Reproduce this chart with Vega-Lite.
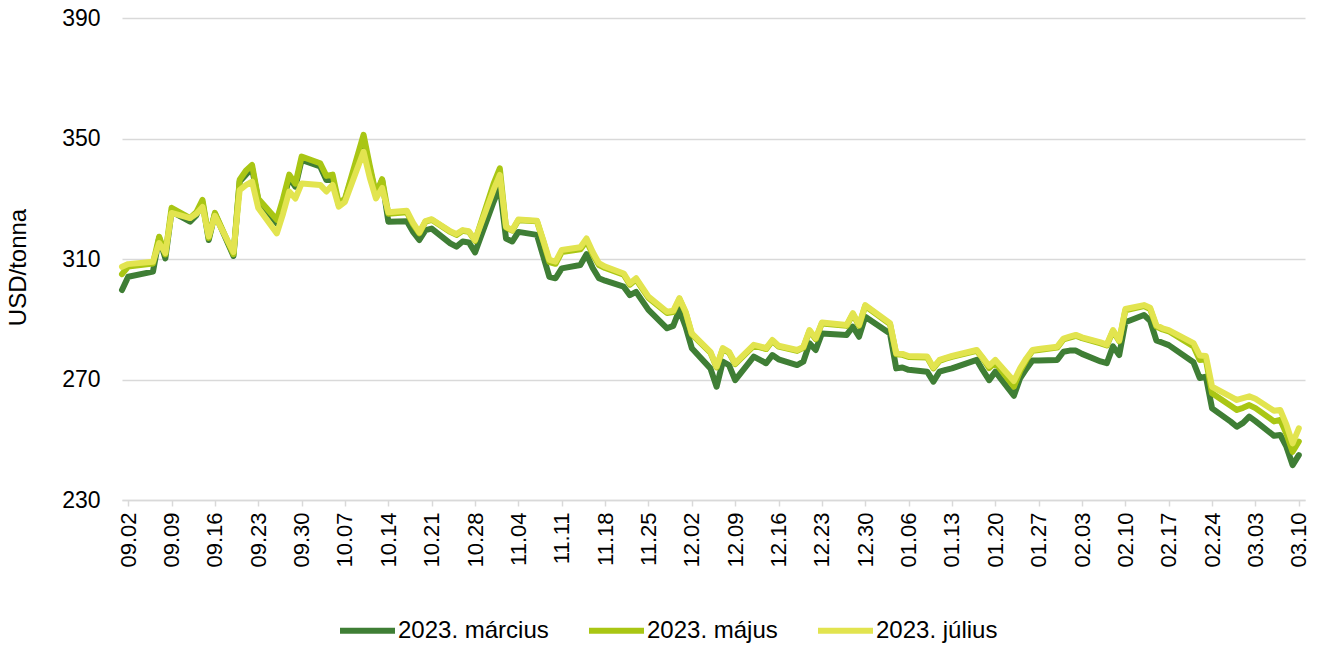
{
  "$schema": "https://vega.github.io/schema/vega-lite/v6.json",
  "width": 1183,
  "height": 482,
  "autosize": {"type": "none"},
  "padding": {"left": 122, "top": 18, "right": 17, "bottom": 145},
  "background": "#ffffff",
  "config": {"font": "Liberation Sans", "view": {"stroke": null}},
  "data": {"values": [
    {"d":"2022-09-01","mar":299.7,"maj":305.0,"jul":307.4},
    {"d":"2022-09-02","mar":304.1,"maj":307.5,"jul":308.3},
    {"d":"2022-09-06","mar":305.8,"maj":308.5,"jul":309.1},
    {"d":"2022-09-07","mar":317.0,"maj":317.4,"jul":315.3},
    {"d":"2022-09-08","mar":310.2,"maj":311.5,"jul":312.0},
    {"d":"2022-09-09","mar":325.7,"maj":327.0,"jul":325.3},
    {"d":"2022-09-12","mar":322.4,"maj":323.6,"jul":323.6},
    {"d":"2022-09-13","mar":324.5,"maj":325.5,"jul":325.0},
    {"d":"2022-09-14","mar":328.8,"maj":329.6,"jul":327.3},
    {"d":"2022-09-15","mar":316.3,"maj":317.0,"jul":317.5},
    {"d":"2022-09-16","mar":325.0,"maj":325.3,"jul":324.3},
    {"d":"2022-09-19","mar":311.0,"maj":311.6,"jul":312.3},
    {"d":"2022-09-20","mar":335.7,"maj":336.3,"jul":332.9},
    {"d":"2022-09-21","mar":338.0,"maj":339.3,"jul":334.5},
    {"d":"2022-09-22","mar":340.1,"maj":341.2,"jul":335.7},
    {"d":"2022-09-23","mar":329.6,"maj":330.0,"jul":326.9},
    {"d":"2022-09-26","mar":321.8,"maj":323.0,"jul":318.5},
    {"d":"2022-09-27","mar":329.0,"maj":330.0,"jul":325.0},
    {"d":"2022-09-28","mar":337.0,"maj":338.0,"jul":332.4},
    {"d":"2022-09-29","mar":334.0,"maj":335.0,"jul":330.1},
    {"d":"2022-09-30","mar":342.9,"maj":344.0,"jul":335.1},
    {"d":"2022-10-03","mar":340.7,"maj":341.8,"jul":334.6},
    {"d":"2022-10-04","mar":336.2,"maj":337.6,"jul":332.4},
    {"d":"2022-10-05","mar":336.5,"maj":338.0,"jul":334.6},
    {"d":"2022-10-06","mar":328.0,"maj":328.5,"jul":327.4},
    {"d":"2022-10-07","mar":329.6,"maj":330.0,"jul":329.0},
    {"d":"2022-10-10","mar":349.5,"maj":351.2,"jul":345.6},
    {"d":"2022-10-11","mar":340.0,"maj":341.0,"jul":337.0},
    {"d":"2022-10-12","mar":331.2,"maj":331.5,"jul":330.1},
    {"d":"2022-10-13","mar":336.2,"maj":336.5,"jul":333.6},
    {"d":"2022-10-14","mar":322.4,"maj":325.0,"jul":325.5},
    {"d":"2022-10-17","mar":322.5,"maj":325.5,"jul":326.0},
    {"d":"2022-10-18","mar":319.0,"maj":321.5,"jul":322.0},
    {"d":"2022-10-19","mar":316.3,"maj":318.5,"jul":318.8},
    {"d":"2022-10-20","mar":319.6,"maj":322.4,"jul":322.6},
    {"d":"2022-10-21","mar":320.1,"maj":323.0,"jul":323.2},
    {"d":"2022-10-24","mar":315.2,"maj":319.0,"jul":319.2},
    {"d":"2022-10-25","mar":314.1,"maj":318.0,"jul":318.3},
    {"d":"2022-10-26","mar":315.8,"maj":319.4,"jul":319.6},
    {"d":"2022-10-27","mar":315.5,"maj":319.0,"jul":319.2},
    {"d":"2022-10-28","mar":312.2,"maj":316.0,"jul":316.3},
    {"d":"2022-10-31","mar":329.0,"maj":335.0,"jul":333.0},
    {"d":"2022-11-01","mar":334.0,"maj":340.1,"jul":337.9},
    {"d":"2022-11-02","mar":316.8,"maj":320.5,"jul":320.7},
    {"d":"2022-11-03","mar":315.8,"maj":319.4,"jul":319.6},
    {"d":"2022-11-04","mar":319.0,"maj":322.9,"jul":323.1},
    {"d":"2022-11-07","mar":318.0,"maj":322.5,"jul":322.7},
    {"d":"2022-11-08","mar":311.0,"maj":316.0,"jul":316.3},
    {"d":"2022-11-09","mar":304.1,"maj":309.0,"jul":309.7},
    {"d":"2022-11-10","mar":303.6,"maj":308.4,"jul":309.1},
    {"d":"2022-11-11","mar":306.9,"maj":312.3,"jul":313.0},
    {"d":"2022-11-14","mar":308.0,"maj":313.2,"jul":313.9},
    {"d":"2022-11-15","mar":311.6,"maj":316.0,"jul":316.8},
    {"d":"2022-11-16","mar":307.0,"maj":311.6,"jul":312.3},
    {"d":"2022-11-17","mar":303.6,"maj":308.0,"jul":308.6},
    {"d":"2022-11-18","mar":302.8,"maj":307.0,"jul":307.5},
    {"d":"2022-11-21","mar":300.8,"maj":304.8,"jul":305.2},
    {"d":"2022-11-22","mar":298.0,"maj":301.5,"jul":301.9},
    {"d":"2022-11-23","mar":299.1,"maj":303.2,"jul":303.6},
    {"d":"2022-11-25","mar":293.1,"maj":297.1,"jul":297.5},
    {"d":"2022-11-28","mar":287.0,"maj":292.1,"jul":292.5},
    {"d":"2022-11-29","mar":287.8,"maj":292.4,"jul":292.8},
    {"d":"2022-11-30","mar":293.1,"maj":296.7,"jul":297.0},
    {"d":"2022-12-01","mar":287.5,"maj":292.2,"jul":292.5},
    {"d":"2022-12-02","mar":280.4,"maj":285.0,"jul":285.3},
    {"d":"2022-12-05","mar":273.7,"maj":278.9,"jul":279.2},
    {"d":"2022-12-06","mar":267.6,"maj":274.0,"jul":274.3},
    {"d":"2022-12-07","mar":275.9,"maj":280.1,"jul":280.4},
    {"d":"2022-12-08","mar":274.8,"maj":278.9,"jul":279.2},
    {"d":"2022-12-09","mar":269.8,"maj":275.1,"jul":275.4},
    {"d":"2022-12-12","mar":277.6,"maj":281.2,"jul":281.5},
    {"d":"2022-12-13","mar":276.5,"maj":280.7,"jul":281.0},
    {"d":"2022-12-14","mar":275.4,"maj":280.1,"jul":280.4},
    {"d":"2022-12-15","mar":278.1,"maj":282.8,"jul":283.1},
    {"d":"2022-12-16","mar":276.7,"maj":280.9,"jul":281.2},
    {"d":"2022-12-19","mar":274.8,"maj":279.5,"jul":279.8},
    {"d":"2022-12-20","mar":275.9,"maj":280.5,"jul":280.8},
    {"d":"2022-12-21","mar":282.0,"maj":286.1,"jul":286.4},
    {"d":"2022-12-22","mar":279.8,"maj":283.4,"jul":283.7},
    {"d":"2022-12-23","mar":285.3,"maj":288.6,"jul":288.9},
    {"d":"2022-12-27","mar":284.8,"maj":287.8,"jul":288.1},
    {"d":"2022-12-28","mar":287.5,"maj":291.7,"jul":292.0},
    {"d":"2022-12-29","mar":284.2,"maj":287.8,"jul":288.1},
    {"d":"2022-12-30","mar":290.8,"maj":294.4,"jul":294.7},
    {"d":"2023-01-03","mar":285.3,"maj":288.4,"jul":288.7},
    {"d":"2023-01-04","mar":273.7,"maj":278.4,"jul":278.7},
    {"d":"2023-01-05","mar":274.0,"maj":278.2,"jul":278.5},
    {"d":"2023-01-06","mar":273.2,"maj":277.5,"jul":277.8},
    {"d":"2023-01-09","mar":272.6,"maj":277.3,"jul":277.6},
    {"d":"2023-01-10","mar":269.3,"maj":273.7,"jul":274.0},
    {"d":"2023-01-11","mar":272.6,"maj":276.2,"jul":276.5},
    {"d":"2023-01-12","mar":273.2,"maj":276.9,"jul":277.2},
    {"d":"2023-01-13","mar":273.7,"maj":277.5,"jul":277.8},
    {"d":"2023-01-17","mar":276.5,"maj":279.5,"jul":279.8},
    {"d":"2023-01-18","mar":273.0,"maj":276.9,"jul":277.2},
    {"d":"2023-01-19","mar":269.8,"maj":273.8,"jul":274.5},
    {"d":"2023-01-20","mar":272.6,"maj":275.6,"jul":276.5},
    {"d":"2023-01-23","mar":264.6,"maj":267.6,"jul":269.5},
    {"d":"2023-01-24","mar":270.4,"maj":272.8,"jul":273.7},
    {"d":"2023-01-25","mar":273.5,"maj":276.5,"jul":277.0},
    {"d":"2023-01-26","mar":276.3,"maj":279.5,"jul":279.8},
    {"d":"2023-01-27","mar":276.3,"maj":279.8,"jul":280.1},
    {"d":"2023-01-30","mar":276.5,"maj":280.6,"jul":280.9},
    {"d":"2023-01-31","mar":279.2,"maj":283.3,"jul":283.6},
    {"d":"2023-02-01","mar":279.6,"maj":283.9,"jul":284.2},
    {"d":"2023-02-02","mar":279.6,"maj":284.5,"jul":284.8},
    {"d":"2023-02-03","mar":278.5,"maj":283.7,"jul":284.0},
    {"d":"2023-02-06","mar":276.0,"maj":282.0,"jul":282.3},
    {"d":"2023-02-07","mar":275.4,"maj":281.3,"jul":281.6},
    {"d":"2023-02-08","mar":281.0,"maj":286.1,"jul":286.4},
    {"d":"2023-02-09","mar":278.1,"maj":282.7,"jul":283.0},
    {"d":"2023-02-10","mar":289.0,"maj":293.0,"jul":293.4},
    {"d":"2023-02-13","mar":291.4,"maj":294.4,"jul":294.7},
    {"d":"2023-02-14","mar":289.5,"maj":293.4,"jul":293.8},
    {"d":"2023-02-15","mar":283.0,"maj":287.6,"jul":288.0},
    {"d":"2023-02-16","mar":282.2,"maj":286.6,"jul":287.0},
    {"d":"2023-02-17","mar":281.4,"maj":286.0,"jul":286.4},
    {"d":"2023-02-21","mar":275.7,"maj":281.0,"jul":282.1},
    {"d":"2023-02-22","mar":270.5,"maj":276.5,"jul":278.0},
    {"d":"2023-02-23","mar":270.9,"maj":276.6,"jul":277.8},
    {"d":"2023-02-24","mar":260.4,"maj":265.4,"jul":267.6},
    {"d":"2023-02-27","mar":256.0,"maj":261.3,"jul":264.3},
    {"d":"2023-02-28","mar":254.3,"maj":259.9,"jul":263.2},
    {"d":"2023-03-01","mar":255.6,"maj":260.6,"jul":263.8},
    {"d":"2023-03-02","mar":257.7,"maj":261.5,"jul":264.4},
    {"d":"2023-03-03","mar":256.2,"maj":260.5,"jul":263.6},
    {"d":"2023-03-06","mar":251.3,"maj":256.1,"jul":259.6},
    {"d":"2023-03-07","mar":251.6,"maj":256.6,"jul":259.9},
    {"d":"2023-03-08","mar":247.7,"maj":252.0,"jul":255.0},
    {"d":"2023-03-09","mar":241.6,"maj":246.0,"jul":248.8},
    {"d":"2023-03-10","mar":244.9,"maj":249.4,"jul":253.8}
  ]},
  "encoding": {
    "x": {
      "field": "d",
      "type": "temporal",
      "title": null,
      "scale": {
        "type": "utc",
        "nice": false,
        "domain": [
          {"year": 2022, "month": 9, "date": 1, "utc": true},
          {"year": 2023, "month": 3, "date": 11, "utc": true}
        ]
      },
      "axis": {
        "values": [
          {"year": 2022, "month": 9, "date": 2, "utc": true},
          {"year": 2022, "month": 9, "date": 9, "utc": true},
          {"year": 2022, "month": 9, "date": 16, "utc": true},
          {"year": 2022, "month": 9, "date": 23, "utc": true},
          {"year": 2022, "month": 9, "date": 30, "utc": true},
          {"year": 2022, "month": 10, "date": 7, "utc": true},
          {"year": 2022, "month": 10, "date": 14, "utc": true},
          {"year": 2022, "month": 10, "date": 21, "utc": true},
          {"year": 2022, "month": 10, "date": 28, "utc": true},
          {"year": 2022, "month": 11, "date": 4, "utc": true},
          {"year": 2022, "month": 11, "date": 11, "utc": true},
          {"year": 2022, "month": 11, "date": 18, "utc": true},
          {"year": 2022, "month": 11, "date": 25, "utc": true},
          {"year": 2022, "month": 12, "date": 2, "utc": true},
          {"year": 2022, "month": 12, "date": 9, "utc": true},
          {"year": 2022, "month": 12, "date": 16, "utc": true},
          {"year": 2022, "month": 12, "date": 23, "utc": true},
          {"year": 2022, "month": 12, "date": 30, "utc": true},
          {"year": 2023, "month": 1, "date": 6, "utc": true},
          {"year": 2023, "month": 1, "date": 13, "utc": true},
          {"year": 2023, "month": 1, "date": 20, "utc": true},
          {"year": 2023, "month": 1, "date": 27, "utc": true},
          {"year": 2023, "month": 2, "date": 3, "utc": true},
          {"year": 2023, "month": 2, "date": 10, "utc": true},
          {"year": 2023, "month": 2, "date": 17, "utc": true},
          {"year": 2023, "month": 2, "date": 24, "utc": true},
          {"year": 2023, "month": 3, "date": 3, "utc": true},
          {"year": 2023, "month": 3, "date": 10, "utc": true}
        ],
        "format": "%m.%d",
        "labelAngle": -90,
        "labelAlign": "right",
        "labelBaseline": "middle",
        "labelFontSize": 22,
        "labelColor": "#000000",
        "labelPadding": 6,
        "labelOverlap": false,
        "labelFlush": false,
        "grid": false,
        "domainColor": "#d9d9d9",
        "domainWidth": 1.5,
        "tickColor": "#d9d9d9",
        "tickWidth": 1.5,
        "tickSize": 6
      }
    }
  },
  "layer": [
    {
      "mark": {"type": "line", "strokeWidth": 6, "strokeJoin": "round", "strokeCap": "round"},
      "encoding": {
        "y": {
          "field": "mar", "type": "quantitative", "title": "USD/tonna",
          "scale": {"domain": [230, 390], "nice": false, "zero": false},
          "axis": {
            "values": [230, 270, 310, 350, 390],
            "grid": true, "gridColor": "#d9d9d9", "gridWidth": 1.5,
            "domain": false, "ticks": false, "tickSize": 0,
            "labelPadding": 22, "labelFontSize": 23, "labelColor": "#000000",
            "titleFontSize": 24, "titleFontWeight": "normal", "titleColor": "#000000",
            "titleX": -104, "titleY": 249, "titleAngle": -90, "titleAlign": "center", "titleBaseline": "middle"
          }
        },
        "color": {
          "datum": "2023. március",
          "scale": {
            "domain": ["2023. március", "2023. május", "2023. július"],
            "range": ["#3f7e35", "#a9c614", "#e2e44f"]
          },
          "legend": {
            "orient": "none", "legendX": 215, "legendY": 582,
            "direction": "horizontal", "title": null,
            "symbolType": "stroke", "symbolSize": 3025, "symbolStrokeWidth": 6,
            "labelFontSize": 24, "labelColor": "#000000", "labelOffset": 0,
            "columnPadding": 28, "labelLimit": 400
          }
        }
      }
    },
    {
      "mark": {"type": "line", "strokeWidth": 6, "strokeJoin": "round", "strokeCap": "round"},
      "encoding": {
        "y": {
          "field": "maj", "type": "quantitative", "title": "USD/tonna",
          "scale": {"domain": [230, 390], "nice": false, "zero": false}
        },
        "color": {"datum": "2023. május"}
      }
    },
    {
      "mark": {"type": "line", "strokeWidth": 6, "strokeJoin": "round", "strokeCap": "round"},
      "encoding": {
        "y": {
          "field": "jul", "type": "quantitative", "title": "USD/tonna",
          "scale": {"domain": [230, 390], "nice": false, "zero": false}
        },
        "color": {"datum": "2023. július"}
      }
    }
  ]
}
